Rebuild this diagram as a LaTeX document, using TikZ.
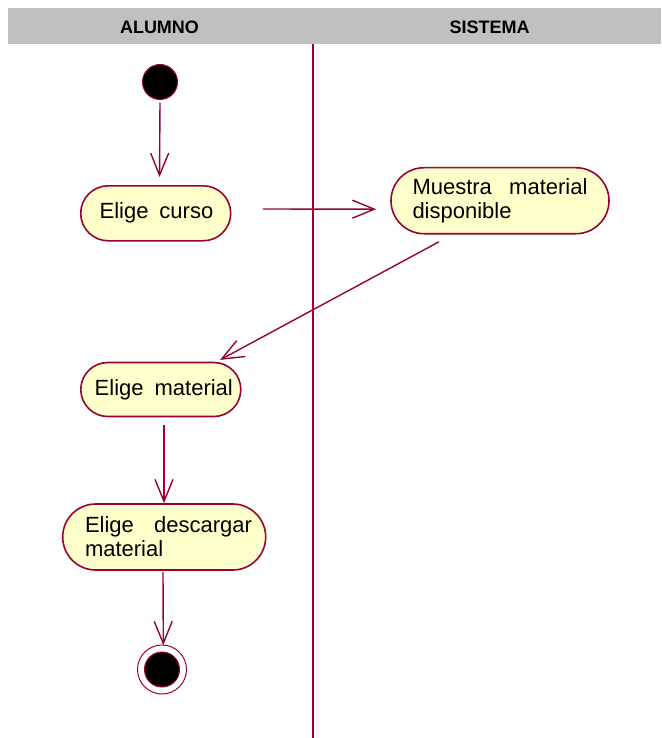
\documentclass[tikz,border=0pt]{standalone}
\usepackage{fontspec}
\setmainfont{Liberation Sans}
\usetikzlibrary{arrows.meta}
\definecolor{lane}{HTML}{990033}
\definecolor{actfill}{HTML}{FFFFCC}
\definecolor{hdr}{HTML}{C0C0C0}
\newcommand{\widesp}{\spaceskip=11pt plus 4pt\relax}
\tikzset{
  act/.style={draw=lane, line width=1.6pt, fill=actfill, rectangle, inner sep=0pt,
    font=\fontsize{22}{24}\selectfont, execute at begin node=\widesp},
  flow/.style={draw=lane, line width=1.4pt, -{Straight Barb[length=22pt,width=18pt,line width=1.4pt]}},
  hdrtext/.style={font=\fontsize{18}{20}\selectfont\bfseries, inner sep=0pt},
  dot/.style={circle, draw=lane, fill=black, line width=1pt, minimum size=35pt, inner sep=0pt},
}
\begin{document}
\begin{tikzpicture}[x=1pt,y=-1pt]
\useasboundingbox (0,0) rectangle (661,738);
\fill[hdr] (8,8) rectangle (661,44);
\node[hdrtext] (hA) at (159.5,27) {ALUMNO};
\node[hdrtext] (hS) at (489.5,27) {SISTEMA};
\coordinate (lt) at (313,44);
\coordinate (lb) at (313,738);
\draw[lane, line width=1.4pt] (lt) -- (lb);
% start
\node[dot] (start) at (160,82) {};
% activities
\node[act, minimum width=150pt, minimum height=55pt, rounded corners=27.5pt] (curso) at (155.7,213.3) {\hspace*{1.5pt}Elige curso};
\node[act, minimum width=218pt, minimum height=66pt, rounded corners=33pt, text width=175pt, align=left] (muestra) at (500,200.7) {Muestra\hfill material\\disponible};
\node[act, minimum width=160pt, minimum height=54pt, rounded corners=27pt] (material) at (160.8,389.5) {\hspace*{6pt}Elige material};
\node[act, minimum width=203pt, minimum height=66pt, rounded corners=33pt, text width=175.6pt, align=left] (descargar) at (164.2,537) {\hspace*{8.6pt}Elige\hfill descargar\\\hspace*{8.6pt}material};
% end
\node[circle, draw=lane, fill=white, line width=1pt, minimum size=49pt, inner sep=0pt] (fin) at (162,669.5) {};
\node[dot] (finin) at (fin) {};
% flows
\draw[flow] ([shift={(0,2.5)}]start.south) -- ([shift={(3.8,-8)}]curso.north);
\draw[flow] ([shift={(31.3,-4.3)}]curso.east) -- ([shift={(-14,8.5)}]muestra.west);
\draw[flow] ([shift={(-61,7.3)}]muestra.south) -- ([shift={(59.2,-1.8)}]material.north);
\draw[flow] ([shift={(3.2,7.5)}]material.south) -- ([shift={(-0.2,0)}]descargar.north);
\draw[flow] ([shift={(-1.2,1)}]descargar.south) -- ([shift={(1.3,0.7)}]fin.north);
\end{tikzpicture}
\end{document}
